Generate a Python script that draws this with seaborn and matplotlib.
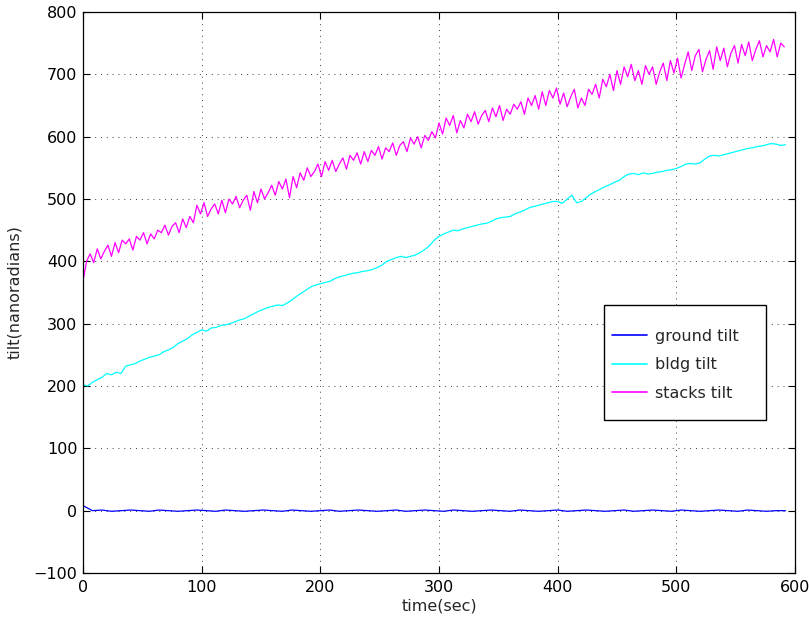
import numpy as np
import pandas as pd
import seaborn as sns
import matplotlib.pyplot as plt
from matplotlib.patches import Rectangle

# Tilt readings (nanoradians)
stacks_tilt = [
    368, 400, 412, 398, 420, 404, 416, 426, 408, 430,
    414, 434, 428, 436, 418, 440, 434, 446, 428, 444,
    436, 450, 446, 458, 442, 456, 462, 446, 468, 454,
    472, 462, 490, 476, 494, 472, 484, 492, 476, 498,
    478, 500, 492, 504, 486, 498, 506, 482, 512, 494,
    516, 500, 510, 522, 506, 528, 516, 532, 502, 536,
    518, 542, 530, 550, 536, 544, 556, 536, 560, 546,
    562, 544, 556, 566, 548, 570, 562, 574, 556, 576,
    560, 578, 570, 584, 564, 582, 576, 590, 570, 586,
    592, 576, 598, 588, 600, 582, 602, 594, 608, 598,
    622, 604, 630, 618, 634, 606, 626, 614, 636, 624,
    640, 620, 634, 642, 624, 646, 632, 650, 626, 644,
    636, 652, 644, 656, 636, 662, 650, 666, 644, 672,
    650, 674, 662, 678, 652, 670, 648, 664, 676, 646,
    662, 650, 676, 668, 684, 662, 692, 680, 700, 674,
    706, 684, 712, 696, 716, 690, 706, 684, 714, 700,
    712, 684, 704, 718, 690, 722, 702, 726, 694, 716,
    736, 706, 730, 740, 704, 724, 738, 708, 744, 722,
    742, 712, 734, 746, 718, 748, 730, 752, 722, 740,
    754, 728, 746, 736, 756, 728, 750, 744,
]
bldg_tilt = [
    202, 200, 206, 210, 214, 220, 218, 222, 220, 232,
    234, 236, 240, 243, 246, 248, 250, 255, 258, 262,
    268, 272, 276, 282, 286, 290, 288, 293, 294, 297,
    298, 300, 303, 306, 308, 312, 316, 320, 323, 326,
    328, 330, 329, 333, 338, 344, 349, 354, 359, 362,
    364, 366, 368, 372, 375, 377, 379, 381, 382, 384,
    385, 387, 390, 394, 400, 403, 406, 408, 406, 408,
    410, 414, 419, 425, 434, 440, 444, 447, 450, 449,
    452, 454, 456, 458, 460, 461, 464, 468, 470, 471,
    472, 476, 479, 482, 486, 488, 490, 492, 494, 496,
    496, 493, 500, 506, 494, 496, 502, 508, 512, 516,
    520, 523, 527, 530, 536, 540, 541, 539, 542, 540,
    541, 543, 544, 546, 547, 549, 552, 556, 557, 556,
    558, 564, 569, 570, 569, 571, 573, 575, 577, 579,
    581, 582, 584, 585, 587, 589, 588, 586, 587,
]
ground_tilt = [
    8, 0, 1, -1, 0, 1, 0, -1, 1, 0,
    -1, 0, 1, 0, -1, 1, 0, -1, 0, 1,
    0, -1, 1, 0, -1, 0, 1, -1, 0, 1,
    0, -1, 0, 1, -1, 0, 1, 0, -1, 1,
    0, -1, 0, 1, 0, -1, 1, 0, -1, 0,
    1, -1, 0, 1, 0, -1, 0, 1, -1, 0,
    1, 0, -1, 1, 0, -1, 0, 1, 0, -1,
    1, 0, -1, 0, 0,
]

# seconds between readings for each record
stacks_step = 3
bldg_step = 4
ground_step = 8

df = pd.concat([
    pd.DataFrame({'time': np.arange(len(ground_tilt)) * ground_step,
                  'tilt': ground_tilt, 'series': 'ground tilt'}),
    pd.DataFrame({'time': np.arange(len(bldg_tilt)) * bldg_step,
                  'tilt': bldg_tilt, 'series': 'bldg tilt'}),
    pd.DataFrame({'time': np.arange(len(stacks_tilt)) * stacks_step,
                  'tilt': stacks_tilt, 'series': 'stacks tilt'}),
])

sns.set_style('ticks')
plt.rcParams['font.family'] = ['DejaVu Sans']
fs = 11.5

fig = plt.figure(figsize=(8.09, 6.21), dpi=100)
ax = fig.add_axes([0.1026, 0.0773, 0.8801, 0.9034])

palette = {'ground tilt': '#0000ff', 'bldg tilt': '#00ffff', 'stacks tilt': '#ff00ff'}
sns.lineplot(data=df, x='time', y='tilt', hue='series', palette=palette,
             linewidth=0.9, ax=ax, estimator=None, sort=False)

ax.set_xlim(0, 600)
ax.set_ylim(-100, 800)
ax.set_xticks(range(0, 601, 100))
ax.set_yticks(range(-100, 801, 100))
ax.set_yticklabels(['\u2212100'] + [str(v) for v in range(0, 801, 100)])
ax.tick_params(direction='in', length=5, width=0.8, top=True, right=True,
               labelsize=fs, colors='black')
ax.tick_params(axis='x', pad=5)
ax.tick_params(axis='y', pad=4)
for s in ax.spines.values():
    s.set_color('black')
    s.set_linewidth(0.9)
ax.grid(True, color='0.25', linestyle=(0, (1, 5)), linewidth=0.7)

ax.set_xlabel('time(sec)', fontsize=fs)
ax.set_ylabel('tilt(nanoradians)', fontsize=fs)
ax.xaxis.set_label_coords(0.5, -0.046)
ax.yaxis.set_label_coords(-0.086, 0.5)

# legend box drawn separately so it can be taller than the text block
ax.add_patch(Rectangle((0.732, 0.273), 0.227, 0.205, transform=ax.transAxes,
                       facecolor='white', edgecolor='black', linewidth=1.0, zorder=4))
leg = ax.legend(loc='center left', bbox_to_anchor=(0.743, 0.371), fontsize=fs,
                frameon=False, handlelength=2.2, handletextpad=0.5,
                labelspacing=0.85, borderpad=0, borderaxespad=0)
leg.set_zorder(5)
for line in leg.get_lines():
    line.set_linewidth(1.2)

fig.savefig('out.png', dpi=100)
